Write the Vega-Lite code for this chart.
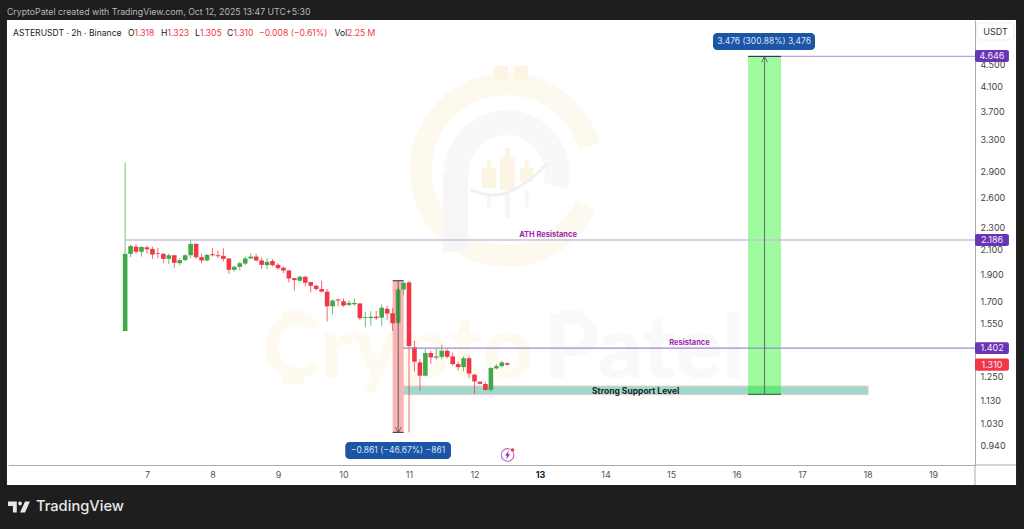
{
"$schema":"https://vega.github.io/schema/vega-lite/v6.json",
"autosize":{"type":"none"},
"width":967,"height":445,
"padding":{"left":8,"top":20,"right":49,"bottom":64},
"background":"#ffffff",
"view":{"stroke":null,"fill":null},
"config":{"text":{"font":"Inter"},"axis":{"labelFont":"Inter"}},
"encoding":{
"x":{"field":"t","type":"temporal","title":null,"scale":{"type":"utc","padding":0,"domain":["2025-10-04T21:05:00Z","2025-10-19T15:22:00Z"]},
"axis":{"orient":"bottom","grid":false,"ticks":false,"domainColor":"#aaaaaa","domainWidth":1,"labelColor":{"condition":{"test":"utcdate(datum.value)==13","value":"#222222"},"value":"#555555"},"labelFontWeight":{"condition":{"test":"utcdate(datum.value)==13","value":"bold"},"value":"normal"},"labelFontSize":9,"labelPadding":5,"labelOverlap":false,"labelFlush":false,"format":"%-d",
"values":[{"year":2025,"month":10,"date":7,"utc":true},{"year":2025,"month":10,"date":8,"utc":true},{"year":2025,"month":10,"date":9,"utc":true},{"year":2025,"month":10,"date":10,"utc":true},{"year":2025,"month":10,"date":11,"utc":true},{"year":2025,"month":10,"date":12,"utc":true},{"year":2025,"month":10,"date":13,"utc":true},{"year":2025,"month":10,"date":14,"utc":true},{"year":2025,"month":10,"date":15,"utc":true},{"year":2025,"month":10,"date":16,"utc":true},{"year":2025,"month":10,"date":17,"utc":true},{"year":2025,"month":10,"date":18,"utc":true},{"year":2025,"month":10,"date":19,"utc":true}]}},
"y":{"field":"p","type":"quantitative","title":null,"scale":{"type":"log","domain":[0.8676,5.395],"nice":false,"zero":false},
"axis":{"orient":"right","grid":false,"ticks":false,"domainColor":"#aaaaaa","domainWidth":1,"labelColor":"#444444","labelFontSize":9,"labelPadding":5,"labelOverlap":false,"labelFlush":false,"format":".3f","values":[0.94,1.03,1.13,1.25,1.55,1.7,1.9,2.1,2.3,2.6,2.9,3.3,3.7,4.1,4.5]}}
},
"layer":[
{"data":{"values":[
{"t":"2025-10-04T18:06:00Z","t2":"2025-10-20T09:20:00Z","p":5.857,"p2":5.395},
{"t":"2025-10-04T18:06:00Z","t2":"2025-10-20T09:20:00Z","p":0.799,"p2":0.667},
{"t":"2025-10-04T18:06:00Z","t2":"2025-10-04T20:42:00Z","p":5.857,"p2":0.667},
{"t":"2025-10-20T06:24:00Z","t2":"2025-10-20T09:20:00Z","p":5.857,"p2":0.667}]},
"mark":{"type":"rect","color":"#1e1e1e"},"encoding":{"x2":{"field":"t2"},"y2":{"field":"p2"}}},

{"data":{"values":[{"t":"2025-10-12T11:48:00Z","p":2.914}]},"mark":{"type":"arc","color":"#fdf9ee","radius":97,"radius2":75,"theta":1.99,"theta2":7.575}},
{"data":{"values":[{"t":"2025-10-12T11:48:00Z","p":2.875}]},"mark":{"type":"arc","color":"#f8f8f8","radius":63,"radius2":38,"theta":4.712,"theta2":8.116}},
{"data":{"values":[
{"t":"2025-10-11T12:28:00Z","t2":"2025-10-11T21:37:00Z","p":2.875,"p2":2.081},
{"t":"2025-10-12T04:35:00Z","t2":"2025-10-12T06:02:00Z","p":2.651,"p2":2.503},
{"t":"2025-10-12T11:10:00Z","t2":"2025-10-12T13:00:00Z","p":2.66,"p2":2.393},
{"t":"2025-10-12T18:19:00Z","t2":"2025-10-12T19:47:00Z","p":2.684,"p2":2.503}]},
"mark":{"type":"rect","color":"#f6f6f6"},"encoding":{"x2":{"field":"t2"},"y2":{"field":"p2"}}},
{"data":{"values":[
{"t":"2025-10-12T07:08:00Z","t2":"2025-10-12T12:16:00Z","p":4.467,"p2":4.217},
{"t":"2025-10-12T14:28:00Z","t2":"2025-10-12T19:36:00Z","p":4.467,"p2":4.217},
{"t":"2025-10-12T02:45:00Z","t2":"2025-10-12T07:52:00Z","p":2.938,"p2":2.706},
{"t":"2025-10-12T09:20:00Z","t2":"2025-10-12T14:50:00Z","p":3.074,"p2":2.684},
{"t":"2025-10-12T16:40:00Z","t2":"2025-10-12T21:26:00Z","p":2.938,"p2":2.774},
{"t":"2025-10-12T04:35:00Z","t2":"2025-10-12T06:02:00Z","p":3.036,"p2":2.938},
{"t":"2025-10-12T11:10:00Z","t2":"2025-10-12T13:00:00Z","p":3.189,"p2":3.074},
{"t":"2025-10-12T18:19:00Z","t2":"2025-10-12T19:47:00Z","p":3.036,"p2":2.938}]},
"mark":{"type":"rect","color":"#fcf5e3"},"encoding":{"x2":{"field":"t2"},"y2":{"field":"p2"}}},
{"data":{"values":[
{"t":"2025-10-11T22:20:00Z","p":2.684},{"t":"2025-10-12T06:46:00Z","p":2.63},{"t":"2025-10-12T15:34:00Z","p":2.706},{"t":"2025-10-12T21:26:00Z","p":2.832},{"t":"2025-10-13T02:56:00Z","p":2.999}]},
"mark":{"type":"line","color":"#f1f1f1","strokeWidth":3,"interpolate":"monotone"}},
{"data":{"values":[{"t":"2025-10-09T01:28:00Z","t2":"2025-10-09T09:30:00Z","p":1.633,"p2":1.587},{"t":"2025-10-09T01:28:00Z","t2":"2025-10-09T09:30:00Z","p":1.25,"p2":1.21}]},"mark":{"type":"rect","color":"#fefaf0"},"encoding":{"x2":{"field":"t2"},"y2":{"field":"p2"}}},
{"data":{"values":[{"t":"2025-10-13T07:00:00Z","t2":"2025-10-13T15:48:00Z","p":1.633,"p2":1.587}]},"mark":{"type":"rect","color":"#f9f9f9"},"encoding":{"x2":{"field":"t2"},"y2":{"field":"p2"}}},
{"data":{"values":[{"t":"2025-10-08T18:08:00Z","p":1.24,"label":"Crypto"}]},"mark":{"type":"text","font":"Lato","fontWeight":900,"fontSize":88,"align":"left","baseline":"alphabetic","color":"#fefaf0"},"encoding":{"text":{"field":"label"}}},
{"data":{"values":[{"t":"2025-10-13T01:30:00Z","p":1.24,"label":"Patel"}]},"mark":{"type":"text","font":"Lato","fontWeight":900,"fontSize":88,"align":"left","baseline":"alphabetic","color":"#f9f9f9"},"encoding":{"text":{"field":"label"}}},

{"data":{"values":[{"t":"2025-10-10T21:48:00Z","t2":"2025-10-18T00:12:00Z","p":1.2,"p2":1.158}]},"mark":{"type":"rect","fill":"#9dd9cc","stroke":"#f5c8c8","strokeWidth":1},"encoding":{"x2":{"field":"t2"},"y2":{"field":"p2"}}},
{"data":{"values":[{"t":"2025-10-10T18:01:00Z","t2":"2025-10-10T22:03:00Z","p":1.849,"p2":0.992}]},"mark":{"type":"rect","color":"#fbb4b4"},"encoding":{"x2":{"field":"t2"},"y2":{"field":"p2"}}},

{"data":{"name":"candles","values":[
{"t":"2025-10-06T16:00:00Z","o":1.504,"h":3.003,"l":1.504,"c":2.065,"dir":"up"},
{"t":"2025-10-06T18:00:00Z","o":2.065,"h":2.142,"l":2.037,"c":2.133,"dir":"up"},
{"t":"2025-10-06T20:00:00Z","o":2.127,"h":2.148,"l":2.065,"c":2.083,"dir":"down"},
{"t":"2025-10-06T22:00:00Z","o":2.083,"h":2.133,"l":2.042,"c":2.124,"dir":"up"},
{"t":"2025-10-07T00:00:00Z","o":2.121,"h":2.135,"l":2.065,"c":2.104,"dir":"down"},
{"t":"2025-10-07T02:00:00Z","o":2.107,"h":2.127,"l":2.021,"c":2.059,"dir":"down"},
{"t":"2025-10-07T04:00:00Z","o":2.071,"h":2.117,"l":2.029,"c":2.065,"dir":"down"},
{"t":"2025-10-07T06:00:00Z","o":2.065,"h":2.074,"l":1.987,"c":2.023,"dir":"down"},
{"t":"2025-10-07T08:00:00Z","o":2.023,"h":2.068,"l":1.98,"c":2.053,"dir":"up"},
{"t":"2025-10-07T10:00:00Z","o":2.053,"h":2.056,"l":1.947,"c":1.99,"dir":"down"},
{"t":"2025-10-07T12:00:00Z","o":1.987,"h":2.029,"l":1.968,"c":2.013,"dir":"up"},
{"t":"2025-10-07T14:00:00Z","o":2.013,"h":2.065,"l":2.002,"c":2.053,"dir":"up"},
{"t":"2025-10-07T16:00:00Z","o":2.053,"h":2.186,"l":2.029,"c":2.151,"dir":"up"},
{"t":"2025-10-07T18:00:00Z","o":2.151,"h":2.156,"l":2.021,"c":2.037,"dir":"down"},
{"t":"2025-10-07T20:00:00Z","o":2.037,"h":2.065,"l":1.987,"c":2.01,"dir":"down"},
{"t":"2025-10-07T22:00:00Z","o":2.01,"h":2.065,"l":2.002,"c":2.056,"dir":"up"},
{"t":"2025-10-08T00:00:00Z","o":2.062,"h":2.115,"l":2.042,"c":2.053,"dir":"down"},
{"t":"2025-10-08T02:00:00Z","o":2.053,"h":2.092,"l":2.029,"c":2.045,"dir":"down"},
{"t":"2025-10-08T04:00:00Z","o":2.048,"h":2.112,"l":2.002,"c":2.023,"dir":"down"},
{"t":"2025-10-08T06:00:00Z","o":2.026,"h":2.029,"l":1.903,"c":1.934,"dir":"down"},
{"t":"2025-10-08T08:00:00Z","o":1.934,"h":1.966,"l":1.92,"c":1.958,"dir":"up"},
{"t":"2025-10-08T10:00:00Z","o":1.958,"h":2.002,"l":1.928,"c":1.987,"dir":"up"},
{"t":"2025-10-08T12:00:00Z","o":1.984,"h":2.042,"l":1.974,"c":2.026,"dir":"up"},
{"t":"2025-10-08T14:00:00Z","o":2.026,"h":2.071,"l":2.021,"c":2.042,"dir":"up"},
{"t":"2025-10-08T16:00:00Z","o":2.042,"h":2.065,"l":2.002,"c":2.01,"dir":"down"},
{"t":"2025-10-08T18:00:00Z","o":2.01,"h":2.034,"l":1.939,"c":1.974,"dir":"down"},
{"t":"2025-10-08T20:00:00Z","o":1.971,"h":2.029,"l":1.939,"c":1.998,"dir":"up"},
{"t":"2025-10-08T22:00:00Z","o":2.005,"h":2.021,"l":1.96,"c":1.971,"dir":"down"},
{"t":"2025-10-09T00:00:00Z","o":1.974,"h":1.987,"l":1.934,"c":1.947,"dir":"down"},
{"t":"2025-10-09T02:00:00Z","o":1.95,"h":1.96,"l":1.908,"c":1.928,"dir":"down"},
{"t":"2025-10-09T04:00:00Z","o":1.928,"h":1.934,"l":1.836,"c":1.866,"dir":"down"},
{"t":"2025-10-09T06:00:00Z","o":1.869,"h":1.872,"l":1.775,"c":1.854,"dir":"down"},
{"t":"2025-10-09T08:00:00Z","o":1.849,"h":1.887,"l":1.844,"c":1.88,"dir":"up"},
{"t":"2025-10-09T10:00:00Z","o":1.88,"h":1.887,"l":1.806,"c":1.834,"dir":"down"},
{"t":"2025-10-09T12:00:00Z","o":1.839,"h":1.842,"l":1.763,"c":1.811,"dir":"down"},
{"t":"2025-10-09T14:00:00Z","o":1.811,"h":1.819,"l":1.777,"c":1.787,"dir":"down"},
{"t":"2025-10-09T16:00:00Z","o":1.787,"h":1.849,"l":1.763,"c":1.768,"dir":"down"},
{"t":"2025-10-09T18:00:00Z","o":1.768,"h":1.787,"l":1.564,"c":1.665,"dir":"down"},
{"t":"2025-10-09T20:00:00Z","o":1.665,"h":1.712,"l":1.612,"c":1.705,"dir":"up"},
{"t":"2025-10-09T22:00:00Z","o":1.712,"h":1.719,"l":1.665,"c":1.705,"dir":"down"},
{"t":"2025-10-10T00:00:00Z","o":1.7,"h":1.719,"l":1.661,"c":1.67,"dir":"down"},
{"t":"2025-10-10T02:00:00Z","o":1.674,"h":1.706,"l":1.665,"c":1.688,"dir":"up"},
{"t":"2025-10-10T04:00:00Z","o":1.679,"h":1.717,"l":1.67,"c":1.688,"dir":"up"},
{"t":"2025-10-10T06:00:00Z","o":1.684,"h":1.688,"l":1.574,"c":1.586,"dir":"down"},
{"t":"2025-10-10T08:00:00Z","o":1.586,"h":1.627,"l":1.527,"c":1.592,"dir":"up"},
{"t":"2025-10-10T10:00:00Z","o":1.586,"h":1.633,"l":1.536,"c":1.595,"dir":"up"},
{"t":"2025-10-10T12:00:00Z","o":1.595,"h":1.633,"l":1.574,"c":1.586,"dir":"down"},
{"t":"2025-10-10T14:00:00Z","o":1.589,"h":1.677,"l":1.536,"c":1.655,"dir":"up"},
{"t":"2025-10-10T16:00:00Z","o":1.648,"h":1.67,"l":1.574,"c":1.616,"dir":"down"},
{"t":"2025-10-10T18:00:00Z","o":1.618,"h":1.655,"l":1.504,"c":1.553,"dir":"down"},
{"t":"2025-10-10T20:00:00Z","o":1.556,"h":1.794,"l":1.546,"c":1.783,"dir":"up"},
{"t":"2025-10-10T22:00:00Z","o":1.783,"h":1.836,"l":1.741,"c":1.833,"dir":"up"},
{"t":"2025-10-11T00:00:00Z","o":1.836,"h":1.849,"l":0.992,"c":1.414,"dir":"down"},
{"t":"2025-10-11T02:00:00Z","o":1.408,"h":1.445,"l":1.274,"c":1.326,"dir":"down"},
{"t":"2025-10-11T04:00:00Z","o":1.322,"h":1.34,"l":1.179,"c":1.252,"dir":"down"},
{"t":"2025-10-11T06:00:00Z","o":1.252,"h":1.396,"l":1.249,"c":1.374,"dir":"up"},
{"t":"2025-10-11T08:00:00Z","o":1.374,"h":1.387,"l":1.313,"c":1.35,"dir":"down"},
{"t":"2025-10-11T10:00:00Z","o":1.348,"h":1.396,"l":1.337,"c":1.355,"dir":"up"},
{"t":"2025-10-11T12:00:00Z","o":1.353,"h":1.421,"l":1.34,"c":1.387,"dir":"up"},
{"t":"2025-10-11T14:00:00Z","o":1.387,"h":1.396,"l":1.345,"c":1.353,"dir":"down"},
{"t":"2025-10-11T16:00:00Z","o":1.355,"h":1.377,"l":1.305,"c":1.313,"dir":"down"},
{"t":"2025-10-11T18:00:00Z","o":1.313,"h":1.326,"l":1.28,"c":1.297,"dir":"down"},
{"t":"2025-10-11T20:00:00Z","o":1.297,"h":1.355,"l":1.274,"c":1.345,"dir":"up"},
{"t":"2025-10-11T22:00:00Z","o":1.345,"h":1.355,"l":1.241,"c":1.263,"dir":"down"},
{"t":"2025-10-12T00:00:00Z","o":1.257,"h":1.263,"l":1.163,"c":1.223,"dir":"down"},
{"t":"2025-10-12T02:00:00Z","o":1.221,"h":1.226,"l":1.208,"c":1.211,"dir":"down"},
{"t":"2025-10-12T04:00:00Z","o":1.21,"h":1.221,"l":1.176,"c":1.181,"dir":"down"},
{"t":"2025-10-12T06:00:00Z","o":1.181,"h":1.297,"l":1.171,"c":1.292,"dir":"up"},
{"t":"2025-10-12T08:00:00Z","o":1.29,"h":1.313,"l":1.284,"c":1.302,"dir":"up"},
{"t":"2025-10-12T10:00:00Z","o":1.302,"h":1.331,"l":1.295,"c":1.322,"dir":"up"},
{"t":"2025-10-12T12:00:00Z","o":1.318,"h":1.323,"l":1.305,"c":1.31,"dir":"down"}
]},
"layer":[
{"mark":{"type":"rule","strokeWidth":1,"opacity":0.75},"encoding":{"y":{"field":"l","type":"quantitative"},"y2":{"field":"h"},"color":{"field":"dir","type":"nominal","legend":null,"scale":{"domain":["up","down"],"range":["#43a84a","#f23645"]}}}},
{"mark":{"type":"bar","size":4.6},"encoding":{"y":{"field":"o","type":"quantitative"},"y2":{"field":"c"},"color":{"field":"dir","type":"nominal","legend":null,"scale":{"domain":["up","down"],"range":["#43a84a","#f23645"]}}}}
]},

{"data":{"values":[{"t":"2025-10-16T04:13:00Z","t2":"2025-10-16T16:18:00Z","p":4.646,"p2":1.16}]},"mark":{"type":"rect","color":"#0cf70c","opacity":0.4},"encoding":{"x2":{"field":"t2"},"y2":{"field":"p2"}}},

{"data":{"values":[{"t":"2025-10-06T16:00:00Z","t2":"2025-10-19T15:22:00Z","p":2.186}]},"mark":{"type":"rule","color":"#cbbfe2","strokeWidth":1.3},"encoding":{"x2":{"field":"t2"}}},
{"data":{"values":[{"t":"2025-10-10T21:48:00Z","t2":"2025-10-19T15:22:00Z","p":1.402}]},"mark":{"type":"rule","color":"#9c8bcb","strokeWidth":1.1},"encoding":{"x2":{"field":"t2"}}},
{"data":{"values":[{"t":"2025-10-16T04:13:00Z","t2":"2025-10-19T15:22:00Z","p":4.646}]},"mark":{"type":"rule","color":"#b7a6d2","strokeWidth":1.2},"encoding":{"x2":{"field":"t2"}}},
{"data":{"values":[{"t":"2025-10-16T04:13:00Z","t2":"2025-10-16T16:18:00Z","p":4.646},{"t":"2025-10-10T18:01:00Z","t2":"2025-10-10T22:03:00Z","p":1.849},{"t":"2025-10-10T18:01:00Z","t2":"2025-10-10T22:03:00Z","p":0.992}]},"mark":{"type":"rule","color":"#2a2a55","strokeWidth":1},"encoding":{"x2":{"field":"t2"}}},
{"data":{"values":[{"t":"2025-10-16T04:13:00Z","t2":"2025-10-16T16:18:00Z","p":1.16}]},"mark":{"type":"rule","color":"#1f5a33","strokeWidth":1},"encoding":{"x2":{"field":"t2"}}},
{"data":{"values":[{"t":"2025-10-16T10:15:00Z","p":4.646,"p2":1.16},{"t":"2025-10-10T20:04:00Z","p":1.849,"p2":0.992}]},"mark":{"type":"rule","color":"#555555","opacity":0.75,"strokeWidth":1.2},"encoding":{"y2":{"field":"p2"}}},
{"data":{"values":[{"t":"2025-10-16T10:15:00Z","p":4.589}]},"mark":{"type":"point","filled":false,"stroke":"#444444","strokeWidth":1,"size":36,"shape":"M-1 1L0 -1L1 1"}},
{"data":{"values":[{"t":"2025-10-10T20:04:00Z","p":1.002}]},"mark":{"type":"point","filled":false,"stroke":"#444444","strokeWidth":1,"size":36,"shape":"M-1 -1L0 1L1 -1"}},

{"data":{"values":[{"t":"2025-10-19T15:22:00Z","t2":"2025-10-20T06:24:00Z","p":0.8676}]},"mark":{"type":"rule","color":"#aaaaaa","strokeWidth":1},"encoding":{"x2":{"field":"t2"}}},
{"data":{"values":[{"t":"2025-10-19T15:22:00Z","p":0.8676,"p2":0.799}]},"mark":{"type":"rule","color":"#aaaaaa","strokeWidth":1},"encoding":{"y2":{"field":"p2"}}},

{"data":{"values":[{"t":"2025-10-19T16:06:00Z","t2":"2025-10-20T05:42:00Z","p":5.33,"p2":4.97}]},"mark":{"type":"rect","fill":"#ffffff","stroke":"#eeeeee","cornerRadius":3},"encoding":{"x2":{"field":"t2"},"y2":{"field":"p2"}}},
{"data":{"values":[
{"t":"2025-10-19T15:22:00Z","t2":"2025-10-20T03:48:00Z","p":4.77,"p2":4.541},
{"t":"2025-10-19T15:22:00Z","t2":"2025-10-20T03:48:00Z","p":2.241,"p2":2.133},
{"t":"2025-10-19T15:22:00Z","t2":"2025-10-20T03:48:00Z","p":1.437,"p2":1.368}]},
"mark":{"type":"rect","color":"#6a35b5","cornerRadius":2},"encoding":{"x2":{"field":"t2"},"y2":{"field":"p2"}}},
{"data":{"values":[{"t":"2025-10-19T15:22:00Z","t2":"2025-10-20T03:48:00Z","p":1.343,"p2":1.278}]},"mark":{"type":"rect","color":"#f23645","cornerRadius":2},"encoding":{"x2":{"field":"t2"},"y2":{"field":"p2"}}},
{"data":{"values":[
{"t":"2025-10-15T15:23:00Z","t2":"2025-10-17T04:45:00Z","p":5.115,"p2":4.77},
{"t":"2025-10-10T00:39:00Z","t2":"2025-10-11T15:23:00Z","p":0.9536,"p2":0.8892}]},
"mark":{"type":"rect","color":"#1c55a5","cornerRadius":4},"encoding":{"x2":{"field":"t2"},"y2":{"field":"p2"}}},

{"data":{"values":[
{"t":"2025-10-19T21:36:00Z","p":4.646,"label":"4.646"},{"t":"2025-10-19T21:36:00Z","p":2.186,"label":"2.186"},{"t":"2025-10-19T21:36:00Z","p":1.402,"label":"1.402"},{"t":"2025-10-19T21:36:00Z","p":1.31,"label":"1.310"}]},
"mark":{"type":"text","fontSize":9,"color":"#f2ecfa"},"encoding":{"text":{"field":"label"}}},
{"data":{"values":[{"t":"2025-10-19T22:54:00Z","p":5.136,"label":"USDT"}]},"mark":{"type":"text","fontSize":9,"color":"#333333"},"encoding":{"text":{"field":"label"}}},
{"data":{"values":[
{"t":"2025-10-16T10:05:00Z","p":4.94,"label":"3.476 (300.88%) 3,476"},{"t":"2025-10-10T19:58:00Z","p":0.921,"label":"−0.861 (−46.67%) −861"}]},
"mark":{"type":"text","fontSize":8.5,"color":"#d6e4f7"},"encoding":{"text":{"field":"label"}}},
{"data":{"values":[
{"t":"2025-10-13T02:56:00Z","p":2.231,"label":"ATH Resistance"},{"t":"2025-10-15T06:46:00Z","p":1.431,"label":"Resistance"}]},
"mark":{"type":"text","fontSize":7.5,"fontWeight":"bold","color":"#9c27b0"},"encoding":{"text":{"field":"label"}}},
{"data":{"values":[{"t":"2025-10-14T11:03:00Z","p":1.178,"label":"Strong Support Level"}]},"mark":{"type":"text","fontSize":8.5,"fontWeight":"bold","color":"#142a2a"},"encoding":{"text":{"field":"label"}}},

{"data":{"values":[{"t":"2025-10-12T12:06:00Z","p":0.904}]},"mark":{"type":"point","filled":false,"stroke":"#9c27b0","strokeWidth":1.1,"size":160,"shape":"circle"}},
{"data":{"values":[{"t":"2025-10-12T12:06:00Z","p":0.904}]},"mark":{"type":"point","filled":true,"opacity":1,"fill":"#9c27b0","stroke":null,"size":70,"shape":"M.3 -1L-.6 .15H-.1L-.3 1L.6 -.15H.1Z"}},
{"data":{"values":[{"t":"2025-10-12T13:55:00Z","p":0.923}]},"mark":{"type":"point","filled":true,"opacity":1,"fill":"#f23645","stroke":"#ffffff","strokeWidth":0.5,"size":16,"shape":"circle"}},

{"data":{"values":[{"t":"2025-10-04T20:42:00Z","p":5.564,"label":"CryptoPatel created with TradingView.com, Oct 12, 2025 13:47 UTC+5:30"}]},
"mark":{"type":"text","align":"left","fontSize":8.75,"color":"#b8b8b8"},"encoding":{"text":{"field":"label"}}},
{"data":{"values":[
{"t":"2025-10-04T22:54:00Z","p":5.125,"label":"ASTERUSDT · 2h · Binance"},{"t":"2025-10-06T17:02:00Z","p":5.125,"label":"O"},{"t":"2025-10-07T05:08:00Z","p":5.125,"label":"H"},{"t":"2025-10-07T17:35:00Z","p":5.125,"label":"L"},{"t":"2025-10-08T05:19:00Z","p":5.125,"label":"C"},{"t":"2025-10-09T20:42:00Z","p":5.125,"label":"Vol"}]},
"mark":{"type":"text","align":"left","fontSize":8.6,"color":"#222222"},"encoding":{"text":{"field":"label"}}},
{"data":{"values":[
{"t":"2025-10-06T19:25:00Z","p":5.125,"label":"1.318"},{"t":"2025-10-07T07:33:00Z","p":5.125,"label":"1.323"},{"t":"2025-10-07T19:25:00Z","p":5.125,"label":"1.305"},{"t":"2025-10-08T07:42:00Z","p":5.125,"label":"1.310"},{"t":"2025-10-08T17:02:00Z","p":5.125,"label":"−0.008 (−0.61%)"},{"t":"2025-10-10T01:17:00Z","p":5.125,"label":"2.25 M"}]},
"mark":{"type":"text","align":"left","fontSize":8.6,"color":"#f23645"},"encoding":{"text":{"field":"label"}}},

{"data":{"values":[{"t":"2025-10-05T07:18:00Z","p":0.73,"label":"TradingView"}]},"mark":{"type":"text","align":"left","fontSize":14.7,"fontWeight":500,"color":"#e8e8e8"},"encoding":{"text":{"field":"label"}}},
{"data":{"values":[{"t":"2025-10-05T01:06:00Z","p":0.73}]},"mark":{"type":"point","filled":true,"opacity":1,"fill":"#e8e8e8","stroke":null,"size":484,"shape":"M-1 -.5H-.2V.5H-.55V-.1H-1ZM.1 -.5A.17 .17 0 1 1 .1 -.16A.17 .17 0 1 1 .1 -.5ZM.55 -.5H1L.55 .5H.1Z"}}
]
}
